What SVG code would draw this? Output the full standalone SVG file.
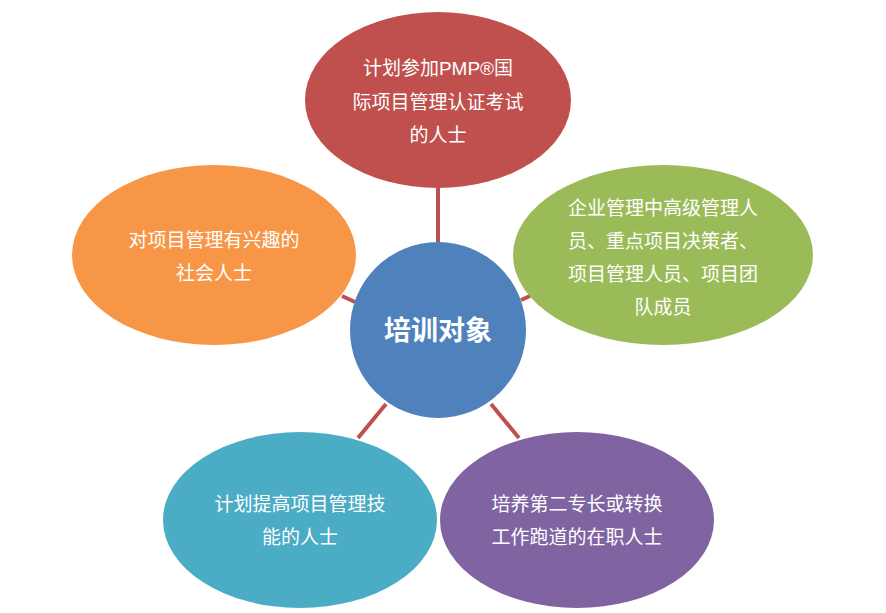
<svg xmlns="http://www.w3.org/2000/svg" width="886" height="613" viewBox="0 0 886 613">
<style>
text{font-family:"Liberation Sans","Noto Sans CJK SC",sans-serif;fill:#fff;font-size:19px;text-anchor:middle}
.c{stroke:#C0504D;stroke-width:4}
</style>
<rect width="886" height="613" fill="#fff"/>
<g id="connectors">
<line class="c" x1="438" y1="188" x2="438" y2="242"/>
<line class="c" x1="342" y1="296" x2="355" y2="302"/>
<line class="c" x1="521" y1="300" x2="530" y2="296"/>
<line class="c" x1="386" y1="404" x2="358" y2="438"/>
<line class="c" x1="491" y1="404" x2="519" y2="438"/>
</g>
<g id="top"><ellipse cx="438" cy="100" rx="133" ry="88" fill="#C0504D"/>
<text x="438" y="75">计划参加PMP®国</text><text x="438" y="109">际项目管理认证考试</text><text x="438" y="142">的人士</text></g>
<g id="right"><ellipse cx="663" cy="255" rx="150" ry="90" fill="#9BBB59"/>
<text x="663" y="215">企业管理中高级管理人</text><text x="663" y="248">员、重点项目决策者、</text><text x="663" y="281">项目管理人员、项目团</text><text x="663" y="314">队成员</text></g>
<g id="left"><ellipse cx="214" cy="255" rx="142" ry="90" fill="#F79646"/>
<text x="214" y="247">对项目管理有兴趣的</text><text x="214" y="280">社会人士</text></g>
<g id="bl"><ellipse cx="300" cy="520" rx="137" ry="88" fill="#4BACC6"/>
<text x="300" y="511">计划提高项目管理技</text><text x="300" y="544">能的人士</text></g>
<g id="br"><ellipse cx="577" cy="520" rx="137" ry="88" fill="#8064A2"/>
<text x="577" y="511">培养第二专长或转换</text><text x="577" y="544">工作跑道的在职人士</text></g>
<g id="center"><circle cx="438" cy="330" r="88" fill="#4F81BD"/>
<text x="438" y="340" style="font-size:27px;font-weight:bold">培训对象</text></g>
</svg>
